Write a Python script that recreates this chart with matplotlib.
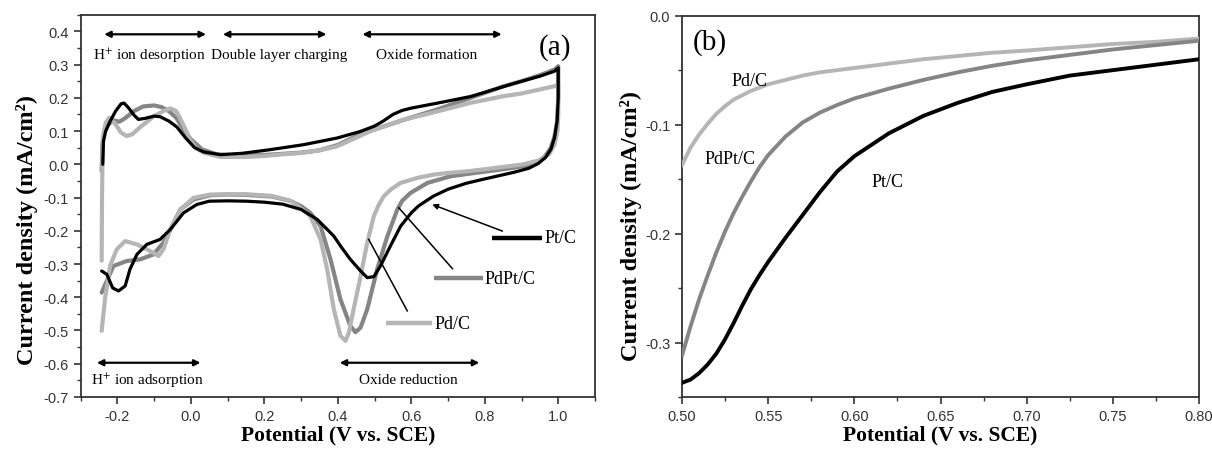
import matplotlib
matplotlib.use("Agg")
import matplotlib.pyplot as plt
from matplotlib.ticker import MultipleLocator, FormatStrFormatter

# ---------------- Data: panel (a) cyclic voltammograms ----------------
pt_x = [-0.240, -0.238, -0.232, -0.222, -0.205, -0.190, -0.182, -0.170, -0.155, -0.143,
        -0.125, -0.100, -0.084, -0.060, -0.038, -0.015, 0.010, 0.035, 0.080, 0.140,
        0.216, 0.307, 0.398, 0.462, 0.500, 0.525, 0.550, 0.575, 0.600, 0.671,
        0.762, 0.852, 0.898, 0.950, 0.990, 1.000,
        1.000, 0.997, 0.990, 0.980, 0.965, 0.945, 0.920, 0.880, 0.840, 0.800,
        0.750, 0.700, 0.660, 0.620, 0.600, 0.571, 0.543, 0.516, 0.498, 0.480,
        0.462, 0.434, 0.410, 0.389, 0.344, 0.300, 0.250, 0.200, 0.150, 0.100,
        0.050, 0.016, -0.020, -0.056, -0.084, -0.120, -0.147, -0.166, -0.179, -0.197,
        -0.213, -0.229, -0.243]
pt_y = [0.000, 0.070, 0.100, 0.125, 0.160, 0.182, 0.184, 0.170, 0.148, 0.135,
        0.138, 0.145, 0.143, 0.130, 0.112, 0.080, 0.050, 0.037, 0.029, 0.033,
        0.044, 0.059, 0.079, 0.099, 0.115, 0.131, 0.150, 0.162, 0.169, 0.184,
        0.204, 0.234, 0.249, 0.265, 0.280, 0.290,
        0.200, 0.130, 0.080, 0.045, 0.020, 0.002, -0.012, -0.024, -0.034, -0.044,
        -0.057, -0.075, -0.096, -0.125, -0.146, -0.186, -0.246, -0.306, -0.338, -0.341,
        -0.321, -0.286, -0.250, -0.216, -0.166, -0.136, -0.120, -0.114, -0.111, -0.110,
        -0.111, -0.121, -0.146, -0.196, -0.226, -0.241, -0.271, -0.316, -0.366, -0.381,
        -0.372, -0.331, -0.321]

pdpt_x = [-0.243, -0.241, -0.236, -0.225, -0.210, -0.195, -0.180, -0.155, -0.130, -0.100,
          -0.080, -0.060, -0.040, -0.020, 0.000, 0.030, 0.070, 0.120, 0.200, 0.300,
          0.350, 0.400, 0.450, 0.500, 0.580, 0.671, 0.762, 0.852, 0.900, 0.950,
          0.990, 1.000,
          1.000, 0.997, 0.990, 0.980, 0.965, 0.945, 0.920, 0.880, 0.843, 0.780,
          0.707, 0.644, 0.598, 0.575, 0.562, 0.535, 0.507, 0.480, 0.462, 0.448,
          0.434, 0.407, 0.380, 0.353, 0.325, 0.300, 0.270, 0.220, 0.150, 0.100,
          0.053, 0.007, -0.029, -0.056, -0.075, -0.102, -0.138, -0.175, -0.211, -0.243]
pdpt_y = [-0.020, 0.060, 0.095, 0.120, 0.132, 0.128, 0.138, 0.160, 0.174, 0.177,
          0.172, 0.160, 0.140, 0.105, 0.075, 0.045, 0.030, 0.026, 0.028, 0.035,
          0.042, 0.058, 0.085, 0.105, 0.134, 0.165, 0.200, 0.235, 0.250, 0.268,
          0.285, 0.295,
          0.200, 0.130, 0.085, 0.050, 0.025, 0.008, -0.003, -0.010, -0.016, -0.025,
          -0.036, -0.056, -0.086, -0.110, -0.136, -0.216, -0.316, -0.436, -0.491, -0.505,
          -0.486, -0.406, -0.286, -0.186, -0.146, -0.126, -0.110, -0.097, -0.092, -0.091,
          -0.093, -0.106, -0.136, -0.196, -0.236, -0.271, -0.286, -0.291, -0.306, -0.386]

pd_x = [-0.243, -0.242, -0.240, -0.232, -0.222, -0.205, -0.190, -0.175, -0.160, -0.140,
        -0.100, -0.075, -0.056, -0.040, -0.030, -0.015, -0.002, 0.015, 0.034, 0.080,
        0.150, 0.200, 0.250, 0.300, 0.350, 0.398, 0.450, 0.489, 0.530, 0.580,
        0.671, 0.762, 0.852, 0.900, 0.950, 0.990, 1.000,
        1.000, 0.998, 0.990, 0.975, 0.950, 0.900, 0.850, 0.800, 0.753, 0.700,
        0.662, 0.620, 0.571, 0.545, 0.525, 0.510, 0.498, 0.480, 0.462, 0.443,
        0.430, 0.421, 0.407, 0.389, 0.371, 0.353, 0.325, 0.298, 0.270, 0.220,
        0.150, 0.053, 0.007, -0.029, -0.056, -0.075, -0.088, -0.111, -0.147, -0.179,
        -0.202, -0.220, -0.234, -0.243]
pd_y = [-0.290, -0.100, 0.080, 0.125, 0.140, 0.120, 0.095, 0.085, 0.090, 0.110,
        0.145, 0.160, 0.168, 0.160, 0.140, 0.105, 0.074, 0.048, 0.035, 0.022,
        0.022, 0.025, 0.030, 0.034, 0.042, 0.054, 0.080, 0.100, 0.115, 0.134,
        0.159, 0.185, 0.205, 0.213, 0.225, 0.235, 0.240,
        0.150, 0.100, 0.060, 0.030, 0.012, -0.001, -0.008, -0.015, -0.021, -0.026,
        -0.031, -0.040, -0.056, -0.075, -0.096, -0.125, -0.156, -0.236, -0.336, -0.436,
        -0.506, -0.531, -0.516, -0.436, -0.316, -0.226, -0.156, -0.131, -0.110, -0.095,
        -0.090, -0.091, -0.101, -0.136, -0.196, -0.256, -0.276, -0.261, -0.241, -0.231,
        -0.256, -0.306, -0.406, -0.501]

# ---------------- Data: panel (b) polarization curves ----------------
lsv_x = [0.500, 0.505, 0.510, 0.515, 0.520, 0.525, 0.530, 0.535, 0.540, 0.545,
         0.550, 0.560, 0.570, 0.580, 0.590, 0.600, 0.620, 0.640, 0.660, 0.680,
         0.700, 0.725, 0.750, 0.775, 0.800]
lsv_pt = [-0.337, -0.334, -0.328, -0.320, -0.310, -0.297, -0.282, -0.266, -0.251, -0.238,
          -0.226, -0.204, -0.183, -0.162, -0.143, -0.129, -0.108, -0.092, -0.080, -0.070,
          -0.063, -0.055, -0.050, -0.045, -0.040]
lsv_pdpt = [-0.312, -0.285, -0.260, -0.238, -0.217, -0.198, -0.181, -0.166, -0.152, -0.139,
            -0.128, -0.111, -0.098, -0.089, -0.082, -0.076, -0.067, -0.059, -0.052, -0.046,
            -0.041, -0.036, -0.031, -0.027, -0.023]
lsv_pd = [-0.137, -0.121, -0.109, -0.099, -0.090, -0.083, -0.077, -0.073, -0.069, -0.066,
          -0.063, -0.059, -0.055, -0.052, -0.050, -0.048, -0.044, -0.040, -0.037, -0.034,
          -0.032, -0.029, -0.026, -0.024, -0.021]

labels = ["Pt/C", "PdPt/C", "Pd/C"]
colors = ["#000000", "#858585", "#b5b5b5"]

SERIF = ["Liberation Serif", "DejaVu Serif"]
SANS = ["Liberation Sans", "DejaVu Sans"]
plt.rcParams['font.family'] = SANS
plt.rcParams['mathtext.fontset'] = 'stix'

fig = plt.figure(figsize=(12.12, 4.52), dpi=100)
axa = fig.add_axes([0.0666, 0.1195, 0.4243, 0.8458])
axb = fig.add_axes([0.5627, 0.1195, 0.4266, 0.8436])

# ---- panel (a)
axa.plot(pdpt_x, pdpt_y, color=colors[1], lw=3.0, solid_capstyle='round', zorder=3)
axa.plot(pd_x, pd_y, color=colors[2], lw=3.0, solid_capstyle='round', zorder=4)
axa.plot(pt_x, pt_y, color=colors[0], lw=2.3, solid_capstyle='round', zorder=5)

axa.set_xlim(-0.3, 1.1)
axa.set_ylim(-0.7, 0.45)
axa.xaxis.set_major_locator(MultipleLocator(0.2))
axa.xaxis.set_minor_locator(MultipleLocator(0.1))
axa.yaxis.set_major_locator(MultipleLocator(0.1))
axa.yaxis.set_minor_locator(MultipleLocator(0.05))
axa.xaxis.set_major_formatter(FormatStrFormatter('%.1f'))
axa.yaxis.set_major_formatter(FormatStrFormatter('%.1f'))

# region arrows
def darrow(ax, x0, x1, y):
    ax.annotate("", xy=(x0, y), xytext=(x1, y),
                arrowprops=dict(arrowstyle="<|-|>", color="black", lw=1.6,
                                mutation_scale=9, shrinkA=0, shrinkB=0))

darrow(axa, -0.236, 0.041, 0.391)
darrow(axa, 0.087, 0.369, 0.391)
darrow(axa, 0.467, 0.846, 0.391)
darrow(axa, -0.256, 0.026, -0.597)
darrow(axa, 0.405, 0.785, -0.597)

tk = dict(family=SERIF, fontsize=11, ha='center', va='center')
axa.text(-0.113, 0.33, r"H$^{+}$ ion desorption", **tk)
axa.text(0.241, 0.33, "Double layer charging", **tk)
axa.text(0.641, 0.33, "Oxide formation", **tk)
axa.text(-0.118, -0.647, r"H$^{+}$ ion adsorption", **tk)
axa.text(0.593, -0.647, "Oxide reduction", **tk)
axa.text(0.99, 0.355, "(a)", family=SERIF, fontsize=21, ha='center', va='center')

# legend-like labels
seg = [(0.821, 0.957, -0.221), (0.662, 0.794, -0.343), (0.530, 0.657, -0.478)]
for (x0, x1, y), lab, c in zip(seg, labels, colors):
    axa.plot([x0, x1], [y, y], color=c, lw=3.2, solid_capstyle='butt', zorder=6)
    axa.text(x1 + 0.006, y, lab, family=SERIF, fontsize=13, ha='left', va='center')

# leader lines
axa.annotate("", xy=(0.657, -0.121), xytext=(0.848, -0.201),
             arrowprops=dict(arrowstyle="-|>", color="black", lw=1.1,
                             mutation_scale=8, shrinkA=0, shrinkB=0))
axa.plot([0.712, 0.566], [-0.314, -0.131], color="black", lw=1.1, zorder=6)
axa.plot([0.589, 0.484], [-0.441, -0.226], color="black", lw=1.1, zorder=6)

YLAB = "Current density (mA/cm²)"
XLAB = "Potential (V vs. SCE)"
axa.set_xlabel(XLAB, family=SERIF, fontsize=15.5, fontweight='bold')
axa.set_ylabel(YLAB, family=SERIF, fontsize=17.5, fontweight='bold')
axa.yaxis.set_label_coords(-0.083, 0.44)
axa.xaxis.set_label_coords(0.5, -0.072)

# ---- panel (b)
axb.plot(lsv_x, lsv_pd, color=colors[2], lw=2.8, zorder=3)
axb.plot(lsv_x, lsv_pdpt, color=colors[1], lw=2.8, zorder=4)
axb.plot(lsv_x, lsv_pt, color=colors[0], lw=2.8, zorder=5)
axb.set_xlim(0.5, 0.8)
axb.set_ylim(-0.35, 0.0)
axb.xaxis.set_major_locator(MultipleLocator(0.05))
axb.xaxis.set_minor_locator(MultipleLocator(0.025))
axb.yaxis.set_major_locator(MultipleLocator(0.1))
axb.yaxis.set_minor_locator(MultipleLocator(0.05))
axb.xaxis.set_major_formatter(FormatStrFormatter('%.2f'))
axb.yaxis.set_major_formatter(FormatStrFormatter('%.1f'))
axb.text(0.539, -0.0595, "Pd/C", family=SERIF, fontsize=13, ha='center', va='center')
axb.text(0.528, -0.131, "PdPt/C", family=SERIF, fontsize=13, ha='center', va='center')
axb.text(0.6195, -0.152, "Pt/C", family=SERIF, fontsize=13, ha='center', va='center')
axb.text(0.516, -0.024, "(b)", family=SERIF, fontsize=21, ha='center', va='center')
axb.set_xlabel(XLAB, family=SERIF, fontsize=15.5, fontweight='bold')
axb.set_ylabel(YLAB, family=SERIF, fontsize=17.5, fontweight='bold')
axb.yaxis.set_label_coords(-0.077, 0.45)
axb.xaxis.set_label_coords(0.5, -0.072)

for ax in (axa, axb):
    for s in ax.spines.values():
        s.set_linewidth(1.3)
        s.set_color("#333333")
    ax.tick_params(which='major', direction='out', length=5, width=1.2,
                   labelsize=10.5, labelcolor="#333333", color="#333333")
    ax.tick_params(which='minor', direction='out', length=3, width=1.0, color="#333333")
    ax.tick_params(top=False, right=False, which='both')

fig.savefig("out.png", dpi=100)
